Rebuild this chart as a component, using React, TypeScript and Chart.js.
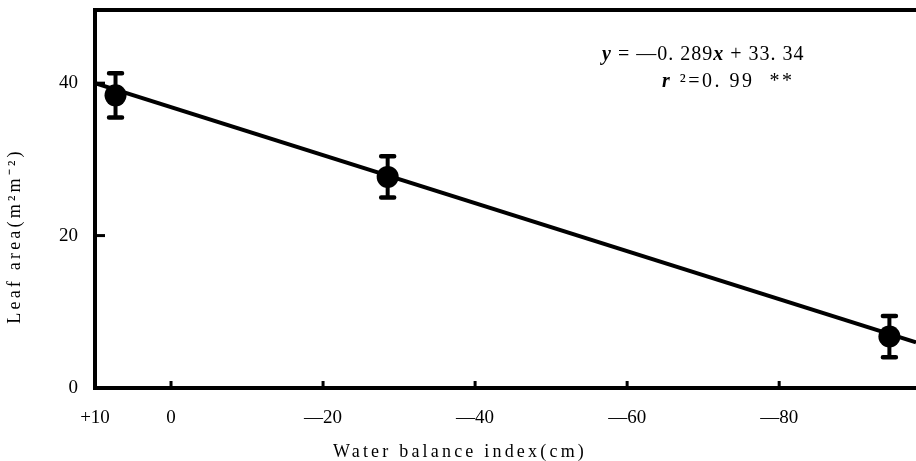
import React, { useEffect, useRef } from "react";
import { Chart, registerables } from "chart.js";

Chart.register(...registerables);

// ---- data ----
const pointX = [7.3, -28.5, -94.5];
const pointY = [38.4, 27.7, 6.75];
const pointErr = [2.9, 2.7, 2.7];
const fitX = [10, -98];
const fitY = [40.0, 6.0];
const xTicks = [10, 0, -20, -40, -60, -80];
const xTickLabels = ["+10", "0", "—20", "—40", "—60", "—80"];
const yTicks = [0, 20, 40];
const yTickLabels = ["0", "20", "40"];
const xTitle = "Water balance index(cm)";
const yTitle = "Leaf area(m²m⁻²)";
const eqParts = ["y", " = —0. 289", "x", " + 33. 34"];
const r2Parts = ["r", " ²=0. 99  **"];

const SERIF = "'Liberation Serif', 'Times New Roman', serif";

function drawParts(ctx: CanvasRenderingContext2D, parts: string[], x: number, y: number, size: number) {
  let cx = x;
  parts.forEach((p, i) => {
    ctx.font = i % 2 === 0 ? `italic bold ${size}px ${SERIF}` : `${size}px ${SERIF}`;
    ctx.fillText(p, cx, y);
    cx += ctx.measureText(p).width;
  });
}

const decor = {
  id: "decor",
  afterDatasetsDraw(chart: any) {
    const { ctx, chartArea, scales } = chart;
    const xs = scales.x;
    const ys = scales.y;
    ctx.save();
    ctx.strokeStyle = "#000";
    // error bars
    pointX.forEach((v, i) => {
      const px = xs.getPixelForValue(v);
      const top = ys.getPixelForValue(pointY[i] + pointErr[i]);
      const bot = ys.getPixelForValue(pointY[i] - pointErr[i]);
      ctx.lineCap = "butt";
      ctx.lineWidth = 4;
      ctx.beginPath();
      ctx.moveTo(px, top);
      ctx.lineTo(px, bot);
      ctx.stroke();
      ctx.lineCap = "round";
      ctx.lineWidth = 4.5;
      ctx.beginPath();
      ctx.moveTo(px - 6.5, top);
      ctx.lineTo(px + 6.5, top);
      ctx.moveTo(px - 6.5, bot);
      ctx.lineTo(px + 6.5, bot);
      ctx.stroke();
    });
    // top frame
    ctx.lineCap = "butt";
    ctx.lineWidth = 4;
    ctx.beginPath();
    ctx.moveTo(chartArea.left - 2, chartArea.top);
    ctx.lineTo(chartArea.right, chartArea.top);
    ctx.stroke();
    // inward tick marks
    ctx.lineWidth = 3;
    yTicks.forEach((v) => {
      if (v === yTicks[0]) return;
      const py = ys.getPixelForValue(v);
      ctx.beginPath();
      ctx.moveTo(chartArea.left, py);
      ctx.lineTo(chartArea.left + 10, py);
      ctx.stroke();
    });
    xTicks.forEach((v) => {
      if (v === xTicks[0]) return;
      const px = xs.getPixelForValue(v);
      ctx.beginPath();
      ctx.moveTo(px, chartArea.bottom);
      ctx.lineTo(px, chartArea.bottom - 7);
      ctx.stroke();
    });
    // titles
    ctx.fillStyle = "#000";
    ctx.textBaseline = "middle";
    ctx.font = `18px ${SERIF}`;
    (ctx as any).letterSpacing = "3.2px";
    ctx.textAlign = "center";
    ctx.fillText(xTitle, 460, 452);
    ctx.save();
    ctx.translate(15, 236);
    ctx.rotate(-Math.PI / 2);
    ctx.fillText(yTitle, 0, 0);
    ctx.restore();
    // equation
    (ctx as any).letterSpacing = "1px";
    ctx.textAlign = "left";
    drawParts(ctx, eqParts, 602, 55, 20);
    (ctx as any).letterSpacing = "2.5px";
    drawParts(ctx, r2Parts, 662, 82, 20);
    (ctx as any).letterSpacing = "0px";
    ctx.restore();
  },
};

export default function App() {
  const ref = useRef<HTMLCanvasElement | null>(null);
  useEffect(() => {
    if (!ref.current) return;
    const tickFont = { family: SERIF, size: 19 };
    const chart = new Chart(ref.current, {
      type: "scatter",
      data: {
        datasets: [
          {
            type: "line",
            data: fitX.map((x, i) => ({ x, y: fitY[i] })),
            borderColor: "#000",
            borderWidth: 4,
            pointRadius: 0,
            fill: false,
          } as any,
          {
            data: pointX.map((x, i) => ({ x, y: pointY[i] })),
            pointRadius: 11,
            pointBackgroundColor: "#000",
            pointBorderWidth: 0,
            backgroundColor: "#000",
          },
        ],
      },
      options: {
        animation: false,
        responsive: false,
        maintainAspectRatio: false,
        devicePixelRatio: 1,
        layout: { autoPadding: false, padding: { top: 10, right: 0, left: 0, bottom: 0 } },
        plugins: { legend: { display: false }, tooltip: { enabled: false } },
        scales: {
          x: {
            type: "linear",
            reverse: true,
            min: -98,
            max: 10,
            grid: { display: false, drawTicks: false },
            border: { display: true, color: "#000", width: 4 },
            ticks: {
              color: "#000",
              font: tickFont,
              padding: 19,
              maxRotation: 0,
              autoSkip: false,
              callback: (v: any) => {
                const i = xTicks.indexOf(Number(v));
                return i >= 0 ? xTickLabels[i] : "";
              },
            },
            afterBuildTicks: (s: any) => {
              s.ticks = xTicks.map((value) => ({ value }));
            },
            afterFit: (s: any) => {
              s.height = 73;
              s.paddingRight = 0;
              s.paddingLeft = 0;
            },
          },
          y: {
            type: "linear",
            min: 0,
            max: 49.6,
            grid: { display: false, drawTicks: false },
            border: { display: true, color: "#000", width: 4 },
            ticks: {
              color: "#000",
              font: tickFont,
              padding: 17,
              autoSkip: false,
              callback: (v: any) => {
                const i = yTicks.indexOf(Number(v));
                return i >= 0 ? yTickLabels[i] : "";
              },
            },
            afterBuildTicks: (s: any) => {
              s.ticks = yTicks.map((value) => ({ value }));
            },
            afterFit: (s: any) => {
              s.width = 95;
              s.paddingTop = 0;
              s.paddingBottom = 0;
            },
          },
        },
      },
      plugins: [decor],
    });
    return () => chart.destroy();
  }, []);
  return (
    <div style={{ position: "fixed", left: 0, top: 0, width: 916, height: 461, background: "#fff" }}>
      <canvas ref={ref} width={916} height={461} style={{ display: "block" }} />
    </div>
  );
}
